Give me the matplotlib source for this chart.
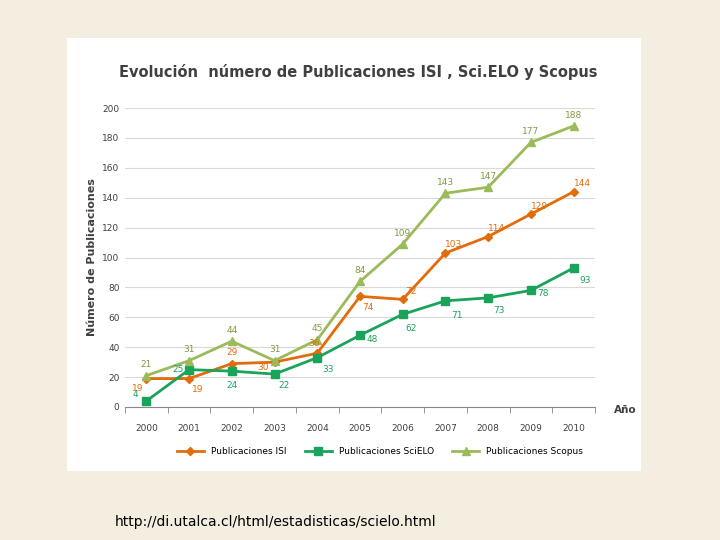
import matplotlib
matplotlib.use("Agg")
import matplotlib.pyplot as plt
from matplotlib.patches import Rectangle

years = ["2000","2001","2002","2003","2004","2005","2006","2007","2008","2009","2010"]
isi = [19, 19, 29, 30, 36, 74, 72, 103, 114, 129, 144]
scielo = [4, 25, 24, 22, 33, 48, 62, 71, 73, 78, 93]
scopus = [21, 31, 44, 31, 45, 84, 109, 143, 147, 177, 188]

c_isi, c_sci, c_sco = "#e36c0a", "#1aa35a", "#9bbb59"

fig = plt.figure(figsize=(7.2, 5.4), dpi=100)
fig.patch.set_facecolor("#f4eee0")
fig.patches.append(Rectangle((67/720, 69/540), 574/720, 433/540, transform=fig.transFigure,
                             facecolor="white", edgecolor="none", zorder=-5))

ax = fig.add_axes([125/720, 1-407/540, 470/720, 299/540])
ax.set_zorder(2)
ax.patch.set_alpha(0)
x = list(range(len(years)))
ax.plot(x, isi, color=c_isi, marker="D", ms=4, lw=2, label="Publicaciones ISI")
ax.plot(x, scielo, color=c_sci, marker="s", ms=6, lw=2, label="Publicaciones SciELO")
ax.plot(x, scopus, color=c_sco, marker="^", ms=6, lw=2, label="Publicaciones Scopus")

isi_off = [(-6, -9), (6, -10), (0, 6), (-8, -6), (-2, 5), (6, -10), (6, 4), (6, 4), (6, 4), (6, 4), (6, 4)]
sci_off = [(-8, 3), (-8, -2), (0, -12), (7, -10), (8, -10), (9, -5), (6, -12), (8, -12), (8, -11), (9, -4), (8, -11)]
for i in x:
    ax.annotate(str(scopus[i]), (i, scopus[i]), xytext=(0, 6), textcoords="offset points",
                ha="center", fontsize=6.5, color="#7f9a45")
    ax.annotate(str(isi[i]), (i, isi[i]), xytext=isi_off[i], textcoords="offset points",
                ha="center", fontsize=6.5, color=c_isi)
    ax.annotate(str(scielo[i]), (i, scielo[i]), xytext=sci_off[i], textcoords="offset points",
                ha="center", fontsize=6.5, color=c_sci)

ax.set_xlim(-0.5, 10.5)
ax.set_ylim(0, 200)
ax.set_yticks(range(0, 201, 20))
ax.set_xticks(x)
ax.set_xticklabels(years)
ax.tick_params(labelsize=6.5, colors="#404040", length=0, pad=12)
ax.tick_params(axis="y", pad=4)
ax.set_xticks([i + 0.5 for i in range(-1, 11)], minor=True)
ax.tick_params(axis="x", which="minor", length=4, color="#888888")
ax.grid(axis="y", color="#d9d9d9", lw=0.8)
ax.set_axisbelow(True)
for s in ["top", "right", "left"]:
    ax.spines[s].set_visible(False)
ax.spines["bottom"].set_color("#888888")
ax.set_ylabel("Número de Publicaciones", fontsize=8, fontweight="bold", color="#404040")
ax.text(1.04, -0.01, "Año", transform=ax.transAxes, fontsize=7.5, fontweight="bold",
        color="#404040", va="center")

fig.text(358/720, 1-72/540, "Evolución  número de Publicaciones ISI , Sci.ELO y Scopus",
         ha="center", va="center", fontsize=10.5, fontweight="bold", color="#404040")
fig.legend(loc="center", bbox_to_anchor=(380/720, 1-452/540), ncol=3, frameon=False,
           fontsize=6.5, handlelength=3, columnspacing=2)
fig.text(115/720, 1-522/540, "http://di.utalca.cl/html/estadisticas/scielo.html",
         fontsize=10, va="center", color="black")

fig.savefig("out.png", dpi=100, facecolor=fig.get_facecolor())
